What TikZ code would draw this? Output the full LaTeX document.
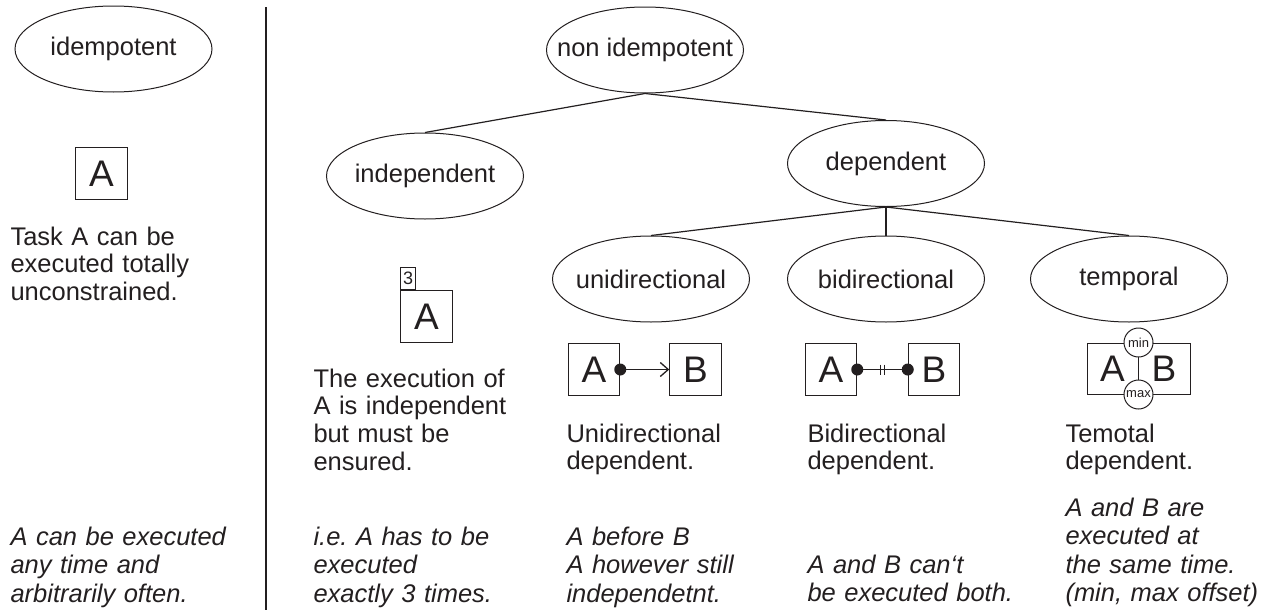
\documentclass[tikz,border=0pt]{standalone}
\usepackage{fontspec}
\setmainfont{Liberation Sans}
\usetikzlibrary{shapes.geometric, arrows.meta, calc}
\definecolor{ink}{HTML}{231F20}
\begin{document}
\begin{tikzpicture}[x = 1pt, y = -1pt, ink, line width = 1pt,
        ell/.style = {draw, ellipse, minimum width = 197pt, minimum height = 86pt,
            inner xsep = -30pt, inner ysep = 0pt, font = \fontsize{25.5}{28}\selectfont},
        taskbox/.style = {draw, minimum size = 51.5pt, inner sep = 0pt, font = \fontsize{37}{37}\selectfont},
        letter/.style = {inner sep = 0pt, font = \fontsize{37}{37}\selectfont},
        note/.style = {anchor = base west, inner sep = 0pt, text width = 260pt, align = left,
            font = \fontsize{25.5}{27.7}\selectfont},
        hint/.style = {note, font = \fontsize{25.5}{28.6}\selectfont\itshape},
        bound/.style = {draw, circle, fill = white, minimum size = 29pt, inner sep = 0pt,
            font = \fontsize{13}{13}\selectfont}]
            \useasboundingbox (0, 0) rectangle (1278, 616);

            % idempotent column
            \node [ell] (idem) at (113.5, 49) {idempotent};
            \node [taskbox] (idemA) at (101.5, 173.5) {A};
            \node [note] (idemtxt) at (10, 245) {Task A can be\\executed totally\\unconstrained.};
            \node [hint] (idemhint) at (10, 545) {A can be executed\\any time and\\arbitrarily often.};

            \draw [line width = 2.5pt] (266, 7) -- (266, 610);

            % the tree
            \node [ell] (nonidem) at (645, 50) {non idempotent};
            \node [ell] (indep) at (425, 176) {independent};
            \node [ell] (dep) at (886, 163.5) {dependent};
            \node [ell] (uni) at (651, 279) {unidirectional};
            \node [ell] (bi) at (886, 279) {bidirectional};
            \node [ell] (temp) at (1129, 279) {temporal};
            \draw [line width = 1.2pt] (nonidem.south) -- (indep.north);
            \draw [line width = 1.2pt] (nonidem.south) -- (dep.north);
            \draw [line width = 1.2pt] (dep.south) -- (uni.north);
            \draw [line width = 1.2pt] (dep.south) -- (bi.north);
            \draw [line width = 1.2pt] (dep.south) -- (temp.north);

            % independent
            \node [taskbox] (indepA) at (426.5, 316.5) {A};
            \node [draw, anchor = south west, minimum width = 15pt, minimum height = 22pt, inner sep = 0pt,
                font = \fontsize{18}{18}\selectfont] (count) at (indepA.north west) {3};
            \node [note] (indeptxt) at (313, 387) {The execution of\\A is independent\\but must be\\ensured.};
            \node [hint] (indephint) at (313, 545) {i.e.\ A has to be\\executed\\exactly 3 times.};

            % unidirectional
            \node [taskbox] (uniA) at (594, 369.5) {A};
            \node [taskbox] (uniB) at (695.5, 369.5) {B};
            \draw [-{Straight Barb[length = 8pt, width = 14pt]}, line width = 1.3pt] (uniA.east) -- (uniB.west);
            \fill (uniA.east) circle [radius = 6pt];
            \node [note] (unitxt) at (566, 442) {Unidirectional\\dependent.};
            \node [hint] (unihint) at (566, 545) {A before B\\A however still\\independetnt.};

            % bidirectional
            \node [taskbox] (biA) at (831, 369.5) {A};
            \node [taskbox] (biB) at (934, 369.5) {B};
            \draw [line width = 1.3pt] (biA.east) -- (biB.west);
            \fill (biA.east) circle [radius = 6pt];
            \fill (biB.west) circle [radius = 6pt];
            \coordinate (bimid) at ($(biA.east)!0.5!(biB.west)$);
            \draw ([xshift = -2pt]bimid) ++(0, -5) -- ++(0, 10);
            \draw ([xshift = 2pt]bimid) ++(0, -5) -- ++(0, 10);
            \node [note] (bitxt) at (807, 442) {Bidirectional\\dependent.};
            \node [hint] (bihint) at (807, 573) {A and B can‘t\\be executed both.};

            % temporal
            \node [draw, minimum width = 103pt, minimum height = 51pt, inner sep = 0pt] (tempbox) at (1138.5, 368.5) {};
            \node [letter] (tempA) at (1112.5, 368.5) {A};
            \node [letter] (tempB) at (1164, 368.5) {B};
            \draw (tempbox.north) -- (tempbox.south);
            \node [bound] (tmin) at (tempbox.north) {min};
            \node [bound] (tmax) at (tempbox.south) {max};
            \node [note] (temptxt) at (1065, 442) {Temotal\\dependent.};
            \node [hint] (temphint) at (1065, 516) {A and B are\\executed at\\the same time.\\(min, max offset)};
        \end{tikzpicture}
\end{document}
